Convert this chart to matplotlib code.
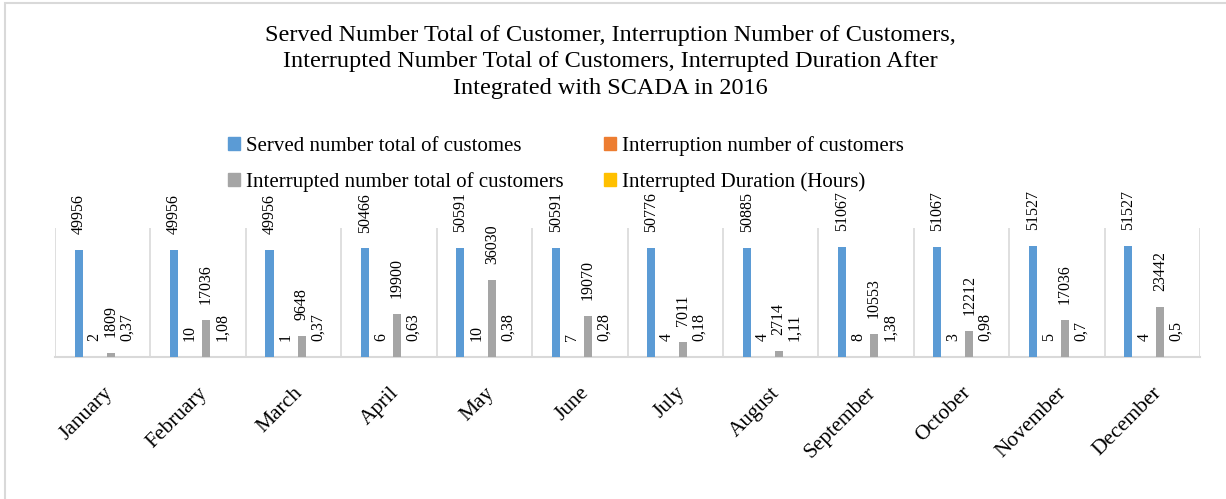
import matplotlib
matplotlib.use("Agg")
import matplotlib.pyplot as plt
import numpy as np
from matplotlib.patches import Rectangle, Patch

months = ["January", "February", "March", "April", "May", "June", "July",
          "August", "September", "October", "November", "December"]
served = [49956, 49956, 49956, 50466, 50591, 50591, 50776, 50885, 51067, 51067, 51527, 51527]
interruption = [2, 10, 1, 6, 10, 7, 4, 4, 8, 3, 5, 4]
interrupted_total = [1809, 17036, 9648, 19900, 36030, 19070, 7011, 2714, 10553, 12212, 17036, 23442]
duration = [0.37, 1.08, 0.37, 0.63, 0.38, 0.28, 0.18, 1.11, 1.38, 0.98, 0.7, 0.5]
duration_labels = ["0,37", "1,08", "0,37", "0,63", "0,38", "0,28", "0,18", "1,11", "1,38", "0,98", "0,7", "0,5"]

series_names = ["Served number total of customes", "Interruption number of customers",
                "Interrupted number total of customers", "Interrupted Duration (Hours)"]
colors = ["#5B9BD5", "#ED7D31", "#A5A5A5", "#FFC000"]

W, H = 1226, 499
fig = plt.figure(figsize=(W / 100, H / 100), dpi=100)
serif = ["Liberation Serif", "DejaVu Serif"]

# outer frame
fig.add_artist(Rectangle((5 / W, -0.05), 1.2, 1 - 3 / H + 0.05, transform=fig.transFigure,
                         fill=False, edgecolor="#d9d9d9", linewidth=1.5))

ax = fig.add_axes([55 / W, 1 - 357 / H, (1200 - 55) / W, (357 - 228) / H])
x = np.arange(len(months))
bw = 0.084
step = 0.168
all_vals = [served, interruption, interrupted_total, duration]
all_labels = [[str(v) for v in served], [str(v) for v in interruption],
              [str(v) for v in interrupted_total], duration_labels]
for i, (vals, labs, c) in enumerate(zip(all_vals, all_labels, colors)):
    pos = x + (i - 1.5) * step
    ax.bar(pos, vals, width=bw, color=c, zorder=3)
    for p, v, l in zip(pos, vals, labs):
        ax.annotate(l, (p, v), xytext=(0, 11.5), textcoords="offset points",
                    rotation=90, ha="center", va="bottom", fontsize=11.5,
                    family=serif, color="#000000")

ax.set_xlim(-0.5, len(months) - 0.5)
ax.set_ylim(0, 60000)
ax.set_yticks([])
ax.set_xticks(x)
ax.set_xticklabels(months, rotation=45, ha="right", va="top", rotation_mode="anchor",
                   fontsize=15.5, family=serif)
ax.tick_params(axis="x", length=0, pad=19)
for b in np.arange(-0.5, len(months) + 0.5, 1.0):
    ax.axvline(b, color="#d9d9d9", linewidth=1.2, zorder=1)
for s in ["top", "right", "left"]:
    ax.spines[s].set_visible(False)
ax.spines["bottom"].set_color("#d9d9d9")
ax.spines["bottom"].set_linewidth(1.5)
ax.patch.set_alpha(0)

fig.text(610 / W, 1 - 62 / H,
         "Served Number Total of Customer, Interruption Number of Customers,\n"
         "Interrupted Number Total of Customers, Interrupted Duration After\n"
         "Integrated with SCADA in 2016",
         ha="center", va="center", fontsize=17.5, family=serif, linespacing=1.32)

order = [0, 2, 1, 3]
handles = [Patch(color=colors[k]) for k in order]
labels = [series_names[k] for k in order]
leg = fig.legend(handles, labels, loc="center", bbox_to_anchor=(566 / W, 1 - 164 / H),
                 ncol=2, frameon=False, prop={"family": serif, "size": 15},
                 handlelength=0.6, handleheight=0.6, handletextpad=0.3,
                 columnspacing=1.9, labelspacing=0.75)

fig.savefig("out.png", dpi=100)
